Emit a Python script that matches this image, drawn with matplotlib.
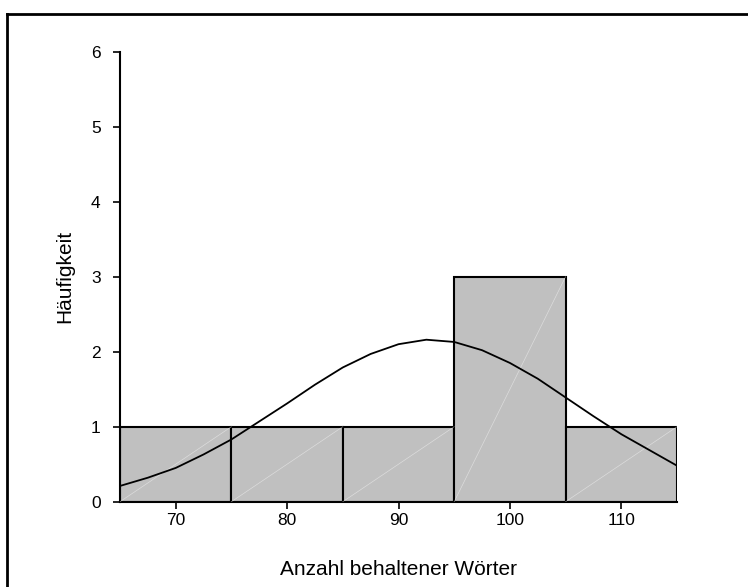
import matplotlib.pyplot as plt
from matplotlib.lines import Line2D

plt.rcParams['font.family'] = ['Liberation Sans', 'DejaVu Sans']

bin_edges = [65, 75, 85, 95, 105, 115]
counts = [1, 1, 1, 3, 1]

# normal curve
curve_x = [65, 67.5, 70, 72.5, 75, 77.5, 80, 82.5, 85, 87.5, 90, 92.5,
           95, 97.5, 100, 102.5, 105, 107.5, 110, 112.5, 115]
curve_y = [0.21, 0.32, 0.45, 0.63, 0.83, 1.07, 1.31, 1.56, 1.79, 1.97, 2.10, 2.16,
           2.13, 2.02, 1.85, 1.64, 1.39, 1.14, 0.90, 0.69, 0.48]

x_ticks = [70, 80, 90, 100, 110]
y_ticks = [0, 1, 2, 3, 4, 5, 6]

fig = plt.figure(figsize=(7.48, 5.87), dpi=100)
ax = fig.add_axes([120 / 748, 1 - 501.7 / 587, 557 / 748, 450 / 587])

lefts = bin_edges[:-1]
widths = [b - a for a, b in zip(bin_edges[:-1], bin_edges[1:])]
ax.bar(lefts, counts, width=widths, align='edge', color='#c0c0c0',
       edgecolor='black', linewidth=1.5, zorder=2)

# faint diagonals inside bars
for x0, w, c in zip(lefts, widths, counts):
    ax.plot([x0, x0 + w], [0, c], color='white', lw=0.5, alpha=0.45, zorder=3)

ax.plot(curve_x, curve_y, color='black', lw=1.3, zorder=4)

ax.set_xlim(65, 115)
ax.set_ylim(0, 6)
ax.set_xticks(x_ticks)
ax.set_yticks(y_ticks)
ax.tick_params(axis='both', labelsize=12.5, length=5, width=1.2, color='black')
ax.tick_params(axis='x', pad=3)
ax.tick_params(axis='y', pad=9)

ax.spines['top'].set_visible(False)
ax.spines['right'].set_visible(False)
ax.spines['left'].set_linewidth(1.5)
ax.spines['bottom'].set_linewidth(1.5)
ax.spines['bottom'].set_bounds(65, 115)

ax.set_xlabel('Anzahl behaltener Wörter', fontsize=15, labelpad=23)
ax.set_ylabel('Häufigkeit', fontsize=15, labelpad=12)

# frame around the chart (only top and left show in the picture)
fig.add_artist(Line2D([7 / 748, 1], [1 - 14 / 587] * 2, transform=fig.transFigure,
                      color='black', lw=2))
fig.add_artist(Line2D([7 / 748] * 2, [0, 1 - 14 / 587], transform=fig.transFigure,
                      color='black', lw=2))

fig.savefig('out.png', dpi=100)
